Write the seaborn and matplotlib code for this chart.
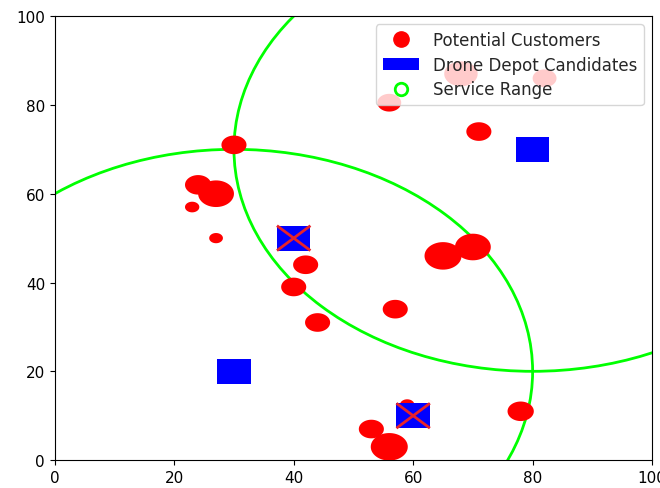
import numpy as np
import matplotlib
matplotlib.use("Agg")
from matplotlib import pyplot as plt
from matplotlib.patches import Circle, Patch
from matplotlib.lines import Line2D
import seaborn as sns

# 001 : Data
cust_x = [30, 24, 27, 23, 27, 42, 40, 44, 57, 65, 70, 53, 56, 78, 59, 71, 56, 68, 82]
cust_y = [71, 62, 60, 57, 50, 44, 39, 31, 34, 46, 48, 7, 3, 11, 12.5, 74, 80.5, 87, 86]
cust_r = [2.1, 2.2, 3.0, 1.2, 1.15, 2.1, 2.1, 2.1, 2.1, 3.1, 3.0, 2.1, 3.1, 2.2, 1.2, 2.1, 2.0, 2.8, 2.0]

depot_x = [30, 40, 60, 80]
depot_y = [20, 50, 10, 70]
depot_chosen = [False, True, True, False]
depot_side = 5.6

range_x = [30, 80]
range_y = [20, 70]
range_r = [50, 50]

# Setup
sns.set_style("ticks")
plt.rcParams['font.family'] = ['DejaVu Sans']

fig_w, fig_h = 6.6, 4.89
ax_l, ax_r, ax_b, ax_t = 0.083, 0.988, 0.057, 0.965
fig = plt.figure(figsize=(fig_w, fig_h), dpi=100)
ax = fig.add_axes([ax_l, ax_b, ax_r - ax_l, ax_t - ax_b])

# points per data unit (x direction) and y/x stretch of the axes box
pt_per_unit = fig_w * 72 * (ax_r - ax_l) / 100
stretch = (fig_h * (ax_t - ax_b)) / (fig_w * (ax_r - ax_l))
t = np.linspace(0, 2 * np.pi, 60)
ellipse_marker = np.column_stack([np.cos(t), stretch * np.sin(t)])
rect_marker = [(-1, -stretch), (1, -stretch), (1, stretch), (-1, stretch)]

# service ranges
for cx, cy, r in zip(range_x, range_y, range_r):
    ax.add_patch(Circle((cx, cy), r, fill=False, edgecolor='#00ff00', linewidth=2, zorder=2))

# customers
sizes = [(2 * r * pt_per_unit) ** 2 for r in cust_r]
sns.scatterplot(x=cust_x, y=cust_y, s=sizes, marker=ellipse_marker, color='red',
                edgecolor='none', linewidth=0, ax=ax, legend=False, zorder=3)

# depots
sns.scatterplot(x=depot_x, y=depot_y, s=(depot_side * pt_per_unit) ** 2, marker=rect_marker,
                color='blue', edgecolor='none', linewidth=0, ax=ax, legend=False, zorder=4)
h = depot_side / 2
for dx, dy, chosen in zip(depot_x, depot_y, depot_chosen):
    if chosen:
        ax.plot([dx - h, dx + h], [dy - h, dy + h], color='#e8232a', lw=2, zorder=5,
                solid_capstyle='butt')
        ax.plot([dx - h, dx + h], [dy + h, dy - h], color='#e8232a', lw=2, zorder=5,
                solid_capstyle='butt')

ax.set_xlim(0, 100)
ax.set_ylim(0, 100)
ax.set_xticks([0, 20, 40, 60, 80, 100])
ax.set_yticks([0, 20, 40, 60, 80, 100])
ax.tick_params(labelsize=11, colors='black')
for s in ax.spines.values():
    s.set_color('black')
    s.set_visible(True)

handles = [
    Line2D([], [], marker='o', color='red', linestyle='none', markersize=11),
    Patch(facecolor='blue', edgecolor='none'),
    Line2D([], [], marker='o', markerfacecolor='white', markeredgecolor='#00ff00',
           markeredgewidth=2, linestyle='none', markersize=9),
]
labels = ['Potential Customers', 'Drone Depot Candidates', 'Service Range']
leg = ax.legend(handles, labels, loc='upper right', fontsize=12, framealpha=0.8,
                edgecolor='0.8', fancybox=True, handlelength=2.2, labelspacing=0.4)
leg.set_zorder(10)

fig.savefig("out.png", dpi=100)
